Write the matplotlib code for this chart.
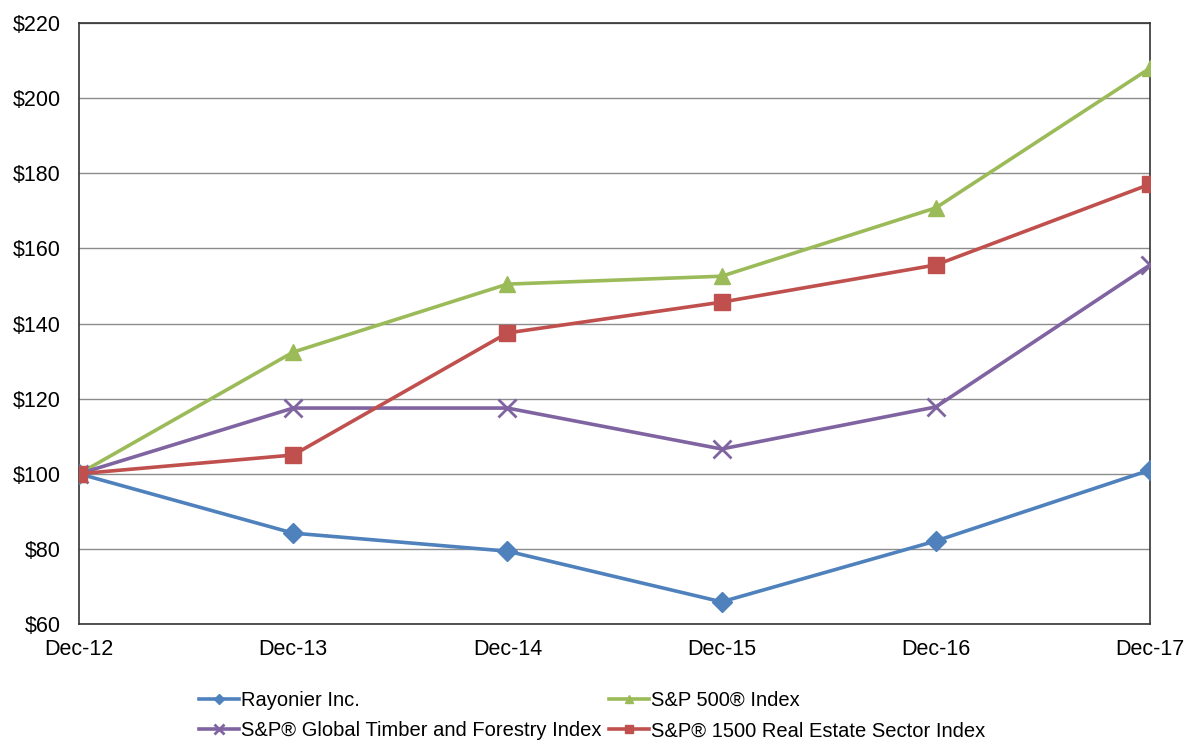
import matplotlib.pyplot as plt

plt.rcParams['font.family'] = ['Liberation Sans', 'DejaVu Sans']

dates = ['Dec-12', 'Dec-13', 'Dec-14', 'Dec-15', 'Dec-16', 'Dec-17']
rayonier = [100, 84.2, 79.4, 65.9, 82.1, 101.0]
sp500 = [100, 132.4, 150.5, 152.6, 170.8, 208.0]
timber = [100, 117.5, 117.5, 106.6, 117.8, 155.6]
real_estate = [100, 105.0, 137.5, 145.7, 155.6, 177.1]
yticks = [60, 80, 100, 120, 140, 160, 180, 200, 220]

fig = plt.figure(figsize=(11.88, 7.45), dpi=100)
ax = fig.add_axes([0.0665, 0.1624, 0.9015, 0.8066])

x = range(len(dates))
l1, = ax.plot(x, rayonier, color='#4F81BD', lw=2.6, marker='D', ms=10, label='Rayonier Inc.', zorder=3)
l2, = ax.plot(x, sp500, color='#9BBB59', lw=2.6, marker='^', ms=12, label='S&P 500® Index', zorder=3)
l3, = ax.plot(x, timber, color='#8064A2', lw=2.6, marker='x', ms=13, mew=2, label='S&P® Global Timber and Forestry Index', zorder=3)
l4, = ax.plot(x, real_estate, color='#C0504D', lw=2.6, marker='s', ms=12, label='S&P® 1500 Real Estate Sector Index', zorder=4)

ax.set_xlim(0, len(dates) - 1)
ax.set_ylim(60, 220)
ax.set_xticks(list(x))
ax.set_xticklabels(dates, fontsize=15.5)
ax.set_yticks(yticks)
ax.set_yticklabels(['$%d' % v for v in yticks], fontsize=15.5)
ax.tick_params(axis='y', length=0, pad=13)
ax.tick_params(axis='x', length=0, pad=11)
ax.yaxis.grid(True, color='#8c8c8c', lw=1)
ax.set_axisbelow(True)
for s in ax.spines.values():
    s.set_color('#333333')
    s.set_linewidth(1.2)

fig.legend([l1, l3, l2, l4], [l1.get_label(), l3.get_label(), l2.get_label(), l4.get_label()],
           ncol=2, loc='lower left', bbox_to_anchor=(0.152, -0.018), frameon=False,
           fontsize=14.5, handlelength=2.0, handletextpad=0.1, columnspacing=0.35,
           labelspacing=0.55, markerscale=0.5)

fig.savefig('out.png', dpi=100)
